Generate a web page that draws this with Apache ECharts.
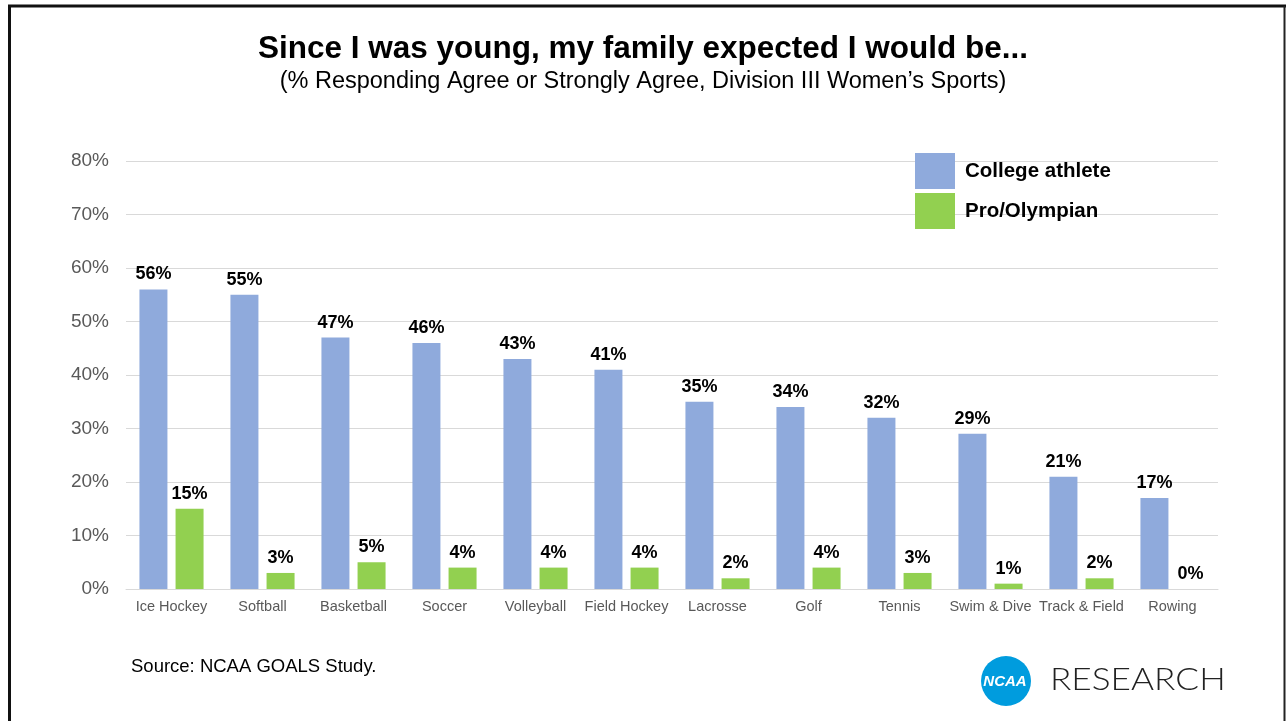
<!DOCTYPE html>
<html>
<head>
<meta charset="utf-8">
<script src="https://cdn.jsdelivr.net/npm/echarts@6/dist/echarts.min.js"></script>
<style>
  html, body { margin: 0; padding: 0; background: #fff; }
  #chart { width: 1286px; height: 721px; }
</style>
</head>
<body>
<div id="chart"></div>
<script>
// Sports (Division III women's programs)
const sports = ['Ice Hockey', 'Softball', 'Basketball', 'Soccer', 'Volleyball', 'Field Hockey',
  'Lacrosse', 'Golf', 'Tennis', 'Swim & Dive', 'Track & Field', 'Rowing'];
// % agreeing family expected them to be a college athlete
const collegeAthlete = [56, 55, 47, 46, 43, 41, 35, 34, 32, 29, 21, 17];
// % agreeing family expected them to be a pro / Olympian
const proOlympian = [15, 3, 5, 4, 4, 4, 2, 4, 3, 1, 2, 0];

const FONT = '"Liberation Sans", Arial, sans-serif';
const chart = echarts.init(document.getElementById('chart'), null, { renderer: 'canvas' });

const labelStyle = {
  show: true,
  position: 'top',
  distance: 6,
  formatter: p => p.value + '%',
  color: '#000',
  fontFamily: FONT,
  fontWeight: 'bold',
  fontSize: 18
};

chart.setOption({
  animation: false,
  backgroundColor: '#fff',
  title: {
    text: 'Since I was young, my family expected I would be...',
    subtext: '(% Responding Agree or Strongly Agree, Division III Women\u2019s Sports)',
    left: 'center',
    top: 28,
    itemGap: 5,
    textStyle: { fontFamily: FONT, fontWeight: 'bold', fontSize: 31.5, color: '#000' },
    subtextStyle: { fontFamily: FONT, fontSize: 23.5, color: '#000' }
  },
  legend: {
    orient: 'vertical',
    left: 910,
    top: 148,
    itemWidth: 40,
    itemHeight: 36,
    itemGap: 4,
    icon: 'rect',
    textStyle: { fontFamily: FONT, fontWeight: 'bold', fontSize: 20.5, color: '#000', padding: [0, 0, 0, 5] },
    data: ['College athlete', 'Pro/Olympian']
  },
  grid: { left: 126, right: 68, top: 161, bottom: 132, containLabel: false },
  xAxis: {
    type: 'category',
    data: sports,
    axisLine: { lineStyle: { color: '#d9d9d9', width: 1 } },
    axisTick: { show: false },
    axisLabel: { color: '#595959', fontFamily: FONT, fontSize: 14.5, margin: 10, interval: 0 }
  },
  yAxis: {
    type: 'value',
    min: 0,
    max: 80,
    interval: 10,
    axisLine: { show: false },
    axisTick: { show: false },
    splitLine: { lineStyle: { color: '#d9d9d9', width: 1 } },
    axisLabel: { formatter: '{value}%', color: '#595959', fontFamily: FONT, fontSize: 19, margin: 17 }
  },
  series: [
    {
      name: 'College athlete',
      type: 'bar',
      data: collegeAthlete,
      barWidth: 28,
      barGap: '29%',
      itemStyle: { color: '#8faadc' },
      label: labelStyle
    },
    {
      name: 'Pro/Olympian',
      type: 'bar',
      data: proOlympian,
      barWidth: 28,
      itemStyle: { color: '#92d050' },
      label: labelStyle
    }
  ],
  graphic: [
    // slide frame
    { type: 'line', shape: { x1: 9.5, y1: 6, x2: 9.5, y2: 721 }, style: { stroke: '#111', lineWidth: 3 } },
    { type: 'line', shape: { x1: 8, y1: 6, x2: 1286, y2: 6 }, style: { stroke: '#111', lineWidth: 3 } },
    { type: 'line', shape: { x1: 1284.5, y1: 6, x2: 1284.5, y2: 721 }, style: { stroke: '#222', lineWidth: 2 } },
    // source note
    {
      type: 'text', left: 131, top: 657,
      style: { text: 'Source: NCAA GOALS Study.', fill: '#000', font: '18.5px "Liberation Sans", Arial, sans-serif' }
    },
    // NCAA badge
    { type: 'circle', shape: { cx: 1006, cy: 681, r: 25 }, style: { fill: '#009cde' } },
    {
      type: 'text', x: 1005, y: 682,
      style: { text: 'NCAA', fill: '#fff', font: 'italic bold 15px "Liberation Sans", Arial, sans-serif', textAlign: 'center', textVerticalAlign: 'middle' }
    },
    {
      type: 'text', x: 1050, y: 680, scaleX: 1.1,
      style: { text: 'RESEARCH', fill: '#222', font: '300 32px Lato, "Open Sans", sans-serif', textVerticalAlign: 'middle' }
    }
  ]
});
</script>
</body>
</html>
